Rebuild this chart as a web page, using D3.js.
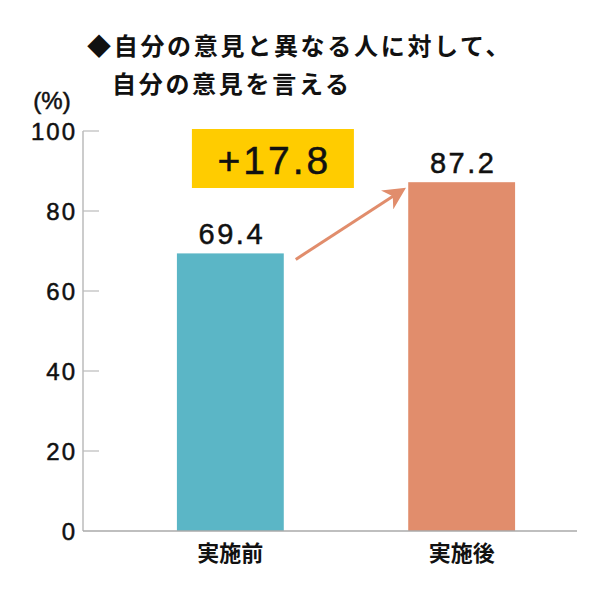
<!DOCTYPE html>
<html><head><meta charset="utf-8">
<script src="https://cdn.jsdelivr.net/npm/d3@7"></script>
<style>body{margin:0;background:#fff}svg{display:block}</style>
</head><body>
<script>
const categories = ["実施前", "実施後"];
const values = [69.4, 87.2];
const valueLabels = ["69.4", "87.2"];
const yTicks = [0, 20, 40, 60, 80, 100];
const diffLabel = "+17.8";
const titleLines = ["◆自分の意見と異なる人に対して、", "自分の意見を言える"];
const unitLabel = "(%)";
const barColors = ["#5BB6C6", "#E18D6C"];

const W = 600, H = 600;
const svg = d3.select("body").append("svg").attr("width", W).attr("height", H);
const numFont = "'Liberation Sans', Arial, sans-serif";
const jpFont = "'Noto Sans CJK JP', sans-serif";
const ink = "#111";

const y = d3.scaleLinear().domain([0, 100]).range([531, 131]);
const x = d3.scaleBand().domain(categories).range([83, 609]).paddingInner(0.538).paddingOuter(0.406);
const axisLeft = 83, axisRight = 577;

function num(sel, size, ls) {
  return sel.attr("font-family", numFont).attr("font-size", size).attr("letter-spacing", ls)
    .attr("fill", ink).attr("stroke", ink).attr("stroke-width", 0.5);
}

// title
svg.append("text").attr("x", 87).attr("y", 47).attr("dy", "0.35em")
  .attr("font-family", jpFont).attr("font-weight", "bold").attr("font-size", 24)
  .attr("letter-spacing", 2.7).attr("fill", ink).text(titleLines[0]);
svg.append("text").attr("x", 112).attr("y", 85).attr("dy", "0.35em")
  .attr("font-family", jpFont).attr("font-weight", "bold").attr("font-size", 24)
  .attr("letter-spacing", 2.7).attr("fill", ink).text(titleLines[1]);

// unit
num(svg.append("text").attr("x", 52).attr("y", 101).attr("dy", "0.35em").attr("text-anchor", "middle"), 24, 0)
  .text(unitLabel);

// axis
const gAxis = svg.append("g");
gAxis.append("line").attr("x1", axisLeft).attr("x2", axisLeft).attr("y1", y(100)).attr("y2", y(0))
  .attr("stroke", "#bbb").attr("stroke-width", 1.5);
gAxis.selectAll(".tick").data(yTicks.filter(d => d > 0)).join("line")
  .attr("x1", axisLeft).attr("x2", axisLeft + 16).attr("y1", d => y(d)).attr("y2", d => y(d))
  .attr("stroke", "#bbb").attr("stroke-width", 1.2);
num(gAxis.selectAll(".tl").data(yTicks).join("text")
  .attr("x", 77).attr("y", d => y(d)).attr("dy", "0.36em").attr("text-anchor", "end"), 24, 2)
  .text(d => d);

// bars
svg.selectAll(".bar").data(values).join("rect")
  .attr("x", (d, i) => x(categories[i])).attr("width", x.bandwidth())
  .attr("y", d => y(d)).attr("height", d => y(0) - y(d))
  .attr("fill", (d, i) => barColors[i]);

// baseline
svg.append("line").attr("x1", axisLeft).attr("x2", axisRight).attr("y1", y(0)).attr("y2", y(0))
  .attr("stroke", "#aaa").attr("stroke-width", 1.5);

// value labels
num(svg.selectAll(".vl").data(values).join("text")
  .attr("x", (d, i) => x(categories[i]) + x.bandwidth() / 2 + 1.5).attr("y", d => y(d) - 9)
  .attr("text-anchor", "middle"), 29, 2.5)
  .text((d, i) => valueLabels[i]);

// category labels
svg.selectAll(".cl").data(categories).join("text")
  .attr("x", d => x(d) + x.bandwidth() / 2).attr("y", 553).attr("dy", "0.35em")
  .attr("text-anchor", "middle").attr("font-family", jpFont).attr("font-weight", "bold")
  .attr("font-size", 22).attr("fill", ink).text(d => d);

// difference box
const bx = x(categories[0]) + 15, by = y(100) - 2;
svg.append("rect").attr("x", bx).attr("y", by).attr("width", 162).attr("height", 59).attr("fill", "#FFCC00");
num(svg.append("text").attr("x", bx + 81 + 1.5).attr("y", by + 45).attr("text-anchor", "middle"), 39, 3)
  .text(diffLabel);

// arrow
const defs = svg.append("defs");
defs.append("marker").attr("id", "ah").attr("viewBox", "0 0 10 10").attr("refX", 8).attr("refY", 5)
  .attr("markerWidth", 7.5).attr("markerHeight", 7.5).attr("markerUnits", "strokeWidth").attr("orient", "auto")
  .append("path").attr("d", "M0,0 L10,5 L0,10 L3,5 Z").attr("fill", barColors[1]);
const x1 = x(categories[0]) + x.bandwidth() + 12, y1 = y(values[0]) + 6;
const x2 = x(categories[1]) - 6, y2 = y(values[1]) + 8;
svg.append("line").attr("x1", x1).attr("y1", y1).attr("x2", x2).attr("y2", y2)
  .attr("stroke", barColors[1]).attr("stroke-width", 3).attr("marker-end", "url(#ah)");
</script>
</body></html>
